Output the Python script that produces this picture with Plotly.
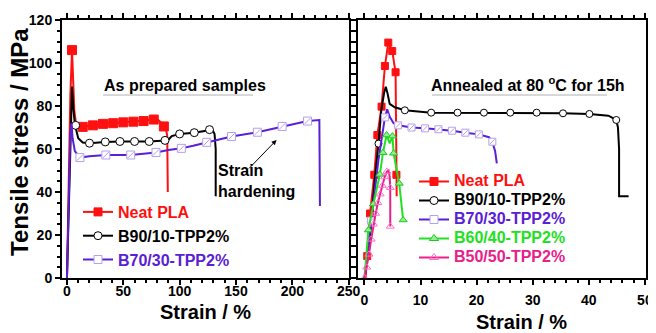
import plotly.graph_objects as go

W, H = 656, 333
FONT = "Arial, Liberation Sans, sans-serif"
OFF = 8  # page body margin offset in the browser

# ---------------- data: left panel (as prepared) ----------------
pla_L_x = [0, 1.5, 3, 4.5, 5.5, 6.5, 8, 10, 14, 23, 32, 41, 50, 59, 68, 77, 81, 84, 86, 88, 89, 89.5]
pla_L_y = [0, 40, 85, 106, 92, 78, 72, 70.5, 70.3, 71, 71.7, 72, 72.4, 72.7, 73, 73.7, 73.5, 72, 70.5, 69, 66, 40]
pla_L_mx = [4.5, 14, 23, 32, 41, 50, 59, 68, 77, 86]
pla_L_my = [106, 70.3, 71, 71.7, 72, 72.4, 72.7, 73, 73.7, 70.5]

b90_L_x = [0, 2, 3.5, 4.5, 5.5, 7, 10, 14, 20, 34, 47, 60, 73, 87, 90, 93, 96, 100, 113, 126.5, 129, 131, 132, 132]
b90_L_y = [0, 40, 80, 89, 80, 71.5, 65, 63, 62.7, 63.3, 63.5, 63.5, 63.5, 64, 64.3, 66, 66.5, 67, 67.6, 69, 69, 67, 60, 38]
b90_L_mx = [7.7, 20, 34, 47, 60, 73, 87, 100, 113, 126.5]
b90_L_my = [71, 62.7, 63.3, 63.5, 63.5, 63.5, 64, 67, 67.6, 69]

b70_L_x = [0, 1.5, 3, 4, 5, 7, 11.5, 20, 34.5, 56.6, 79, 90, 101.5, 112, 124, 146, 169, 191, 213.5, 224, 224.5]
b70_L_y = [0, 40, 68, 72, 65, 59, 56, 56.6, 57.2, 57.2, 58.4, 59.5, 60.3, 61.5, 63.1, 65.8, 67.8, 70.5, 73, 73.5, 33.5]
b70_L_mx = [11.5, 34.5, 56.6, 79, 101.5, 124, 146, 169, 191, 213.5]
b70_L_my = [56, 57.2, 57.2, 58.4, 60.3, 63.1, 65.8, 67.8, 70.5, 73]

# ---------------- data: right panel (annealed) ----------------
pla_R_x = [0.2, 0.5, 1.0, 1.75, 2.3, 3.05, 3.65, 4.25, 4.95, 5.55, 5.7, 5.75]
pla_R_y = [0, 10.2, 30, 48, 66.5, 79.7, 98.6, 109.5, 105.6, 95.7, 48, 38]
pla_R_mx = [0.5, 1.0, 1.75, 2.3, 3.05, 3.65, 4.25, 4.95, 5.55, 5.7]
pla_R_my = [10.2, 30, 48, 66.5, 79.7, 98.6, 109.5, 105.6, 95.7, 48]

b90_R_x = [0, 0.6, 1.2, 1.8, 2.5, 3.0, 3.5, 3.8, 4.1, 4.5, 5.4, 7.2, 11.9, 16.6, 21.3, 26, 30.7, 35.4, 40.1, 43.5, 44.9, 45.2, 45.4, 45.4, 47.1]
b90_R_y = [0, 10, 25, 45, 62.5, 78, 86, 89, 86, 81, 79.4, 78, 76.9, 76.9, 76.9, 76.9, 76.9, 76.6, 76.3, 75.5, 73.5, 70, 60, 38, 38]
b90_R_mx = [2.5, 7.2, 11.9, 16.6, 21.3, 26, 30.7, 35.4, 40.1, 44.9]
b90_R_my = [62.5, 78, 76.9, 76.9, 76.9, 76.9, 76.9, 76.6, 76.3, 73.5]

b70_R_x = [0, 1.15, 2.5, 3.65, 4.05, 4.5, 5.2, 6.0, 8.4, 10.8, 13.2, 15.6, 18.0, 20.4, 22.2, 22.8, 23.3, 23.6]
b70_R_y = [0, 26.7, 55, 74.7, 78.5, 75, 72, 71, 70, 69.6, 69.2, 68.5, 67.6, 66.8, 65.5, 63.4, 59, 53.3]
b70_R_mx = [1.15, 3.65, 6.0, 8.4, 10.8, 13.2, 15.6, 18.0, 20.4, 22.8]
b70_R_my = [26.7, 74.7, 71, 70, 69.6, 69.2, 68.5, 67.6, 66.8, 63.4]

b60_R_x = [0, 0.7, 1.6, 2.75, 3.3, 3.6, 3.95, 4.5, 5.0, 5.2, 5.5, 6.2, 6.9]
b60_R_y = [0, 22.3, 34.4, 48.2, 58.3, 62, 66.5, 62.6, 66, 58, 54, 44, 27]
b60_R_mx = [0.7, 1.6, 2.75, 3.3, 3.95, 5.0, 5.2, 6.2, 6.9]
b60_R_my = [22.3, 34.4, 48.2, 58.3, 66.5, 66, 58, 44, 27]

b50_R_x = [0, 0.4, 0.8, 1.2, 1.6, 2.0, 2.4, 2.8, 3.2, 3.6, 4.0, 4.3, 4.5, 4.6, 4.6]
b50_R_y = [0, 5, 11, 18, 25, 30, 35, 39, 43, 47, 49.5, 50, 47, 42, 24]
b50_R_mx = [0, 0.4, 0.8, 1.2, 1.6, 2.0, 2.4, 2.8, 3.2, 3.6, 4.0, 4.6, 4.6]
b50_R_my = [0, 5, 11, 18, 25, 30, 35, 39, 43, 47, 49.5, 42, 24]

# ---------------- styles ----------------
RED, BLACK, PURPLE, GREEN, PINK = "#ff1010", "#000000", "#5a20d4", "#22e022", "#e8208a"
styles = {
    "Neat PLA": dict(color=RED, marker=dict(symbol="square", size=8, color=RED, line=dict(color=RED, width=1))),
    "B90/10-TPP2%": dict(color=BLACK, marker=dict(symbol="circle", size=8, color="white", line=dict(color=BLACK, width=1))),
    "B70/30-TPP2%": dict(color=PURPLE, marker=dict(symbol="square", size=8, color="white", line=dict(color="#b4a0f0", width=1))),
    "B60/40-TPP2%": dict(color=GREEN, marker=dict(symbol="triangle-up", size=8, color="#8ff08f", line=dict(color="#1fc81f", width=1))),
    "B50/50-TPP2%": dict(color=PINK, marker=dict(symbol="triangle-up-open", size=8, color="#ff70c8", line=dict(color="#ff70c8", width=1))),
}

fig = go.Figure()

def add_series(name, lx, ly, mx, my, xa, ya, legend, msize=8):
    st = styles[name]
    fig.add_trace(go.Scatter(x=lx, y=ly, mode="lines", line=dict(color=st["color"], width=2),
                             xaxis=xa, yaxis=ya, showlegend=False, hoverinfo="skip"))
    mk = dict(st["marker"]); mk["size"] = msize
    fig.add_trace(go.Scatter(x=mx, y=my, mode="markers", marker=mk,
                             xaxis=xa, yaxis=ya, showlegend=False))
    if name == "B70/30-TPP2%":
        fig.add_trace(go.Scatter(x=mx, y=my, mode="markers",
                                 marker=dict(symbol="line-ne", size=msize - 2,
                                             line=dict(color="#b4a0f0", width=1)),
                                 xaxis=xa, yaxis=ya, showlegend=False, hoverinfo="skip"))
    label = f'<span style="font-size:16px;color:{st["color"]}">{name}</span>'
    fig.add_trace(go.Scatter(x=[None], y=[None], mode="lines+markers", name=label,
                             line=dict(color=st["color"], width=2), marker=st["marker"],
                             xaxis=xa, yaxis=ya, legend=legend, showlegend=True))

add_series("Neat PLA", pla_L_x, pla_L_y, pla_L_mx, pla_L_my, "x", "y", "legend", 9)
add_series("B90/10-TPP2%", b90_L_x, b90_L_y, b90_L_mx, b90_L_my, "x", "y", "legend")
add_series("B70/30-TPP2%", b70_L_x, b70_L_y, b70_L_mx, b70_L_my, "x", "y", "legend")

add_series("Neat PLA", pla_R_x, pla_R_y, pla_R_mx, pla_R_my, "x2", "y2", "legend2", 7)
add_series("B90/10-TPP2%", b90_R_x, b90_R_y, b90_R_mx, b90_R_my, "x2", "y2", "legend2", 7)
add_series("B70/30-TPP2%", b70_R_x, b70_R_y, b70_R_mx, b70_R_my, "x2", "y2", "legend2", 7)
add_series("B60/40-TPP2%", b60_R_x, b60_R_y, b60_R_mx, b60_R_my, "x2", "y2", "legend2", 7)
add_series("B50/50-TPP2%", b50_R_x, b50_R_y, b50_R_mx, b50_R_my, "x2", "y2", "legend2", 7)

def px(v):
    return (v - OFF) / W

def py(v):
    return 1 - (v - OFF) / H

tickfont = dict(family=FONT, size=14, color="black", weight="bold")
common = dict(showline=True, linewidth=2, linecolor="black", mirror="ticks", ticks="outside",
              ticklen=5, tickwidth=1.5, tickcolor="black", showgrid=False, zeroline=False,
              tickfont=tickfont, automargin=False)

fig.update_layout(
    width=W, height=H, margin=dict(l=0, r=0, t=0, b=0, autoexpand=False),
    paper_bgcolor="white", plot_bgcolor="white",
    font=dict(family=FONT, color="black"),
    xaxis=dict(domain=[px(62), px(349)], range=[-4.4, 250.3], tick0=0, dtick=50,
               minor=dict(dtick=10, ticklen=3, ticks="outside", tickcolor="black"), anchor="y",
               ticklabelstandoff=-6, **common),
    yaxis=dict(domain=[py(278), py(20)], range=[0, 120], dtick=20,
               minor=dict(dtick=5, ticklen=3, ticks="outside", tickcolor="black"), anchor="x", **common),
    xaxis2=dict(domain=[px(358), px(646)], range=[-1.15, 50.2], tick0=0, dtick=10,
                minor=dict(dtick=2, ticklen=3, ticks="outside", tickcolor="black"), anchor="y2",
                ticklabelstandoff=3, **common),
    yaxis2=dict(domain=[py(278), py(20)], range=[0, 120], dtick=20, showticklabels=False,
                minor=dict(dtick=5, ticklen=3, ticks="outside", tickcolor="black"), anchor="x2", **common),
    legend=dict(x=px(78), y=py(195), xanchor="left", yanchor="top", bgcolor="rgba(0,0,0,0)",
                font=dict(family=FONT, size=16, weight="bold"), tracegroupgap=0, itemwidth=30),
    legend2=dict(x=px(414), y=py(167), xanchor="left", yanchor="top", bgcolor="rgba(0,0,0,0)",
                 font=dict(family=FONT, size=12, weight="bold"), tracegroupgap=0, itemwidth=30),
    showlegend=True,
)

def note(text, x, y, size=16, **kw):
    opts = dict(xanchor="center", yanchor="middle")
    opts.update(kw)
    fig.add_annotation(text=text, x=px(x), y=py(y), xref="paper", yref="paper", showarrow=False,
                       font=dict(family=FONT, size=size, color="black", weight="bold"), **opts)

note("As prepared samples", 185, 85)
note("Annealed at 80 <sup>o</sup>C for 15h", 528, 84)
note("Strain<br>hardening", 216, 181, xanchor="left", align="left")
note("Tensile stress / MPa", 19, 142, size=24, textangle=-90)
note("Strain / %", 205, 312, size=20)
note("Strain / %", 521, 322, size=20)

fig.add_annotation(text="", x=186, y=64.2, xref="x", yref="y", ax=-29, ay=30,
                   showarrow=True, arrowhead=2, arrowsize=1, arrowwidth=1, arrowcolor="black")

fig.add_shape(type="line", xref="paper", yref="paper", x0=px(103), x1=px(253), y0=py(95), y1=py(95),
              line=dict(color="#b0b0b0", width=1))
fig.add_shape(type="line", xref="paper", yref="paper", x0=px(432), x1=px(607), y0=py(95), y1=py(95),
              line=dict(color="#b0b0b0", width=1))

fig.write_html("out.html")
